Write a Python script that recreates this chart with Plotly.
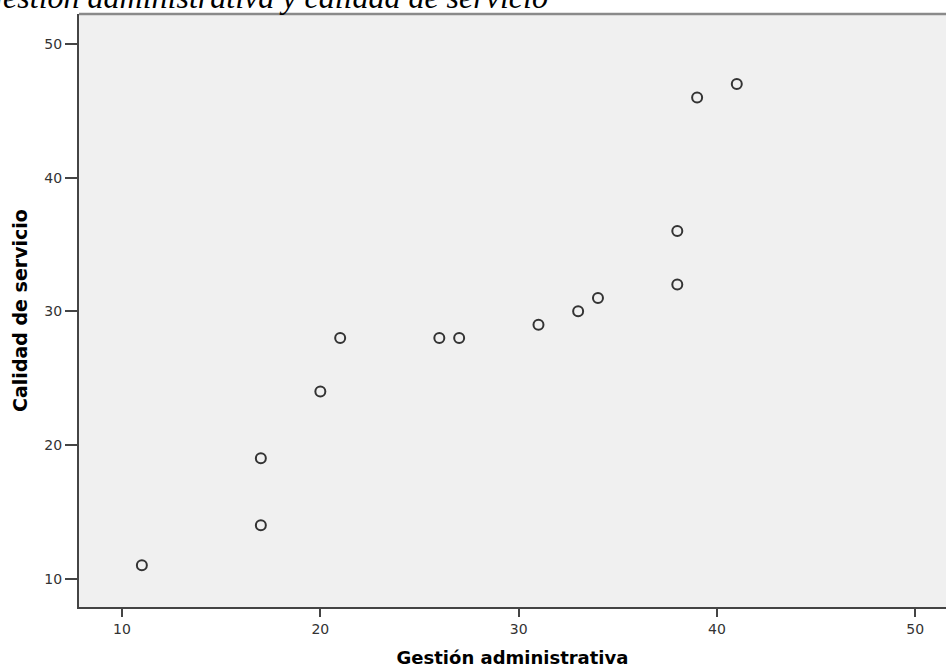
import plotly.graph_objects as go

gestion = [11, 17, 17, 20, 21, 26, 27, 31, 33, 34, 38, 38, 39, 41]
calidad = [11, 14, 19, 24, 28, 28, 28, 29, 30, 31, 32, 36, 46, 47]
tick_vals = [10, 20, 30, 40, 50]

W, H = 947, 669
L, T, R, B = 79, 14, 1, 62
pw = W - L - R
ph = H - T - B

fig = go.Figure()
fig.add_trace(go.Scatter(
    x=gestion, y=calidad, mode="markers",
    marker=dict(symbol="circle-open", size=10, color="#333333", line=dict(width=2, color="#333333")),
    showlegend=False, hoverinfo="skip"))

axis_common = dict(
    showgrid=False, zeroline=False, showline=True, linecolor="#444444", linewidth=2,
    ticks="outside", tickcolor="#444444", tickwidth=1.5,
    tickfont=dict(family="DejaVu Sans", size=14, color="#333333"),
    tickvals=tick_vals, ticktext=[str(v) for v in tick_vals],
    automargin=False,
)

fig.update_xaxes(range=[7.83, 51.55], ticklen=8, **axis_common,
                 title=dict(text="<b>Gestión administrativa</b>", standoff=16,
                            font=dict(family="DejaVu Sans", size=18, color="#000000")))
fig.update_yaxes(range=[7.88, 52.24], ticklen=12, **axis_common,
                 title=dict(text="<b>Calidad de servicio</b>", standoff=12,
                            font=dict(family="DejaVu Sans", size=19, color="#000000")))

fig.add_shape(type="line", xref="paper", yref="paper", x0=0, x1=1, y0=1, y1=1,
              line=dict(color="#8a8a8a", width=2.5))

fig.add_annotation(
    text="<i>Gestión administrativa y calidad de servicio</i>",
    xref="paper", yref="paper", x=(-22 - L) / pw, y=1 - 3 / ph,
    xanchor="left", yanchor="bottom", showarrow=False,
    font=dict(family="Liberation Serif", size=32, color="#000000"))

fig.update_layout(
    width=W, height=H, margin=dict(l=L, r=R, t=T, b=B),
    plot_bgcolor="#f0f0f0", paper_bgcolor="#ffffff",
)

fig.write_html("out.html", config={"displayModeBar": False},
               post_script="document.body.style.margin='0';document.body.style.overflow='hidden';")
